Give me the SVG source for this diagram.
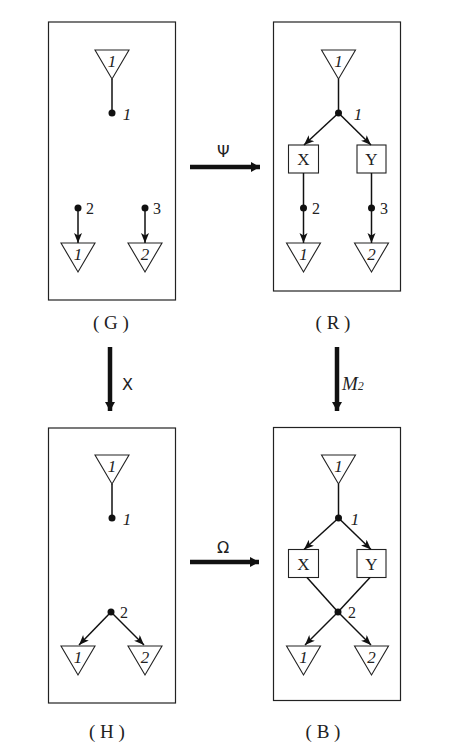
<svg xmlns="http://www.w3.org/2000/svg" width="450" height="750" viewBox="0 0 450 750">
<style>
.panel{fill:none;stroke:#222;stroke-width:1.2}
.tri{fill:#fff;stroke:#222;stroke-width:1.1}
.box{fill:#fff;stroke:#222;stroke-width:1.1}
.e{stroke:#111;stroke-width:1.5;fill:none}
.ea{stroke:#111;stroke-width:1.5;fill:none;marker-end:url(#ah)}
.big{stroke:#111;stroke-width:4.5;fill:none;marker-end:url(#bh)}
.dot{fill:#111}
.ti{font-family:"Liberation Serif",serif;font-style:italic;font-size:17px;fill:#222;text-anchor:middle}
.nl{font-family:"Liberation Serif",serif;font-size:16px;fill:#222}
.bl{font-family:"Liberation Serif",serif;font-size:17px;fill:#222;text-anchor:middle}
.cap{font-family:"Liberation Serif",serif;font-size:19px;fill:#222;text-anchor:middle}
.op{font-family:"DejaVu Sans",sans-serif;font-size:16px;fill:#222}
</style>
<defs>
<marker id="ah" markerUnits="userSpaceOnUse" markerWidth="11" markerHeight="9" refX="10" refY="4" orient="auto">
<path d="M0,0 L10,4 L0,8 L2.5,4 z" fill="#111"/>
</marker>
<marker id="bh" markerUnits="userSpaceOnUse" markerWidth="10" markerHeight="11" refX="9" refY="5" orient="auto">
<path d="M0,0 L9,5 L0,10 z" fill="#111"/>
</marker>
</defs>

<g id="panel-G">
<rect class="panel" x="48.5" y="22" width="127" height="278"/>
<polygon class="tri" points="95,50 129,50 112,79"/>
<text class="ti" x="112" y="67">1</text>
<circle class="dot" cx="112" cy="113" r="3.5"/>
<text class="ti" x="127" y="120">1</text>
<circle class="dot" cx="78" cy="208" r="3.5"/>
<text class="nl" x="86" y="214">2</text>
<circle class="dot" cx="145" cy="208" r="3.5"/>
<text class="nl" x="153" y="214">3</text>
<polygon class="tri" points="61,243 95,243 78,272"/>
<text class="ti" x="78" y="260">1</text>
<polygon class="tri" points="128,243 162,243 145,272"/>
<text class="ti" x="145" y="260">2</text>
<text class="cap" x="111" y="329">( G )</text>
</g>

<g id="panel-R">
<rect class="panel" x="273.5" y="22" width="127" height="269"/>
<polygon class="tri" points="321.5,50 355.5,50 338.5,79"/>
<text class="ti" x="338.5" y="67">1</text>
<circle class="dot" cx="338.5" cy="113" r="3.5"/>
<text class="ti" x="358" y="120">1</text>
<rect class="box" x="288.5" y="145" width="30" height="28"/>
<text class="bl" x="303.5" y="165">X</text>
<rect class="box" x="357" y="145" width="29" height="28"/>
<text class="bl" x="371.5" y="165">Y</text>
<circle class="dot" cx="303.5" cy="208" r="3.5"/>
<text class="nl" x="312" y="214">2</text>
<circle class="dot" cx="371.5" cy="208" r="3.5"/>
<text class="nl" x="380" y="214">3</text>
<polygon class="tri" points="286.5,243 320.5,243 303.5,272"/>
<text class="ti" x="303.5" y="260">1</text>
<polygon class="tri" points="354.5,243 388.5,243 371.5,272"/>
<text class="ti" x="371.5" y="260">2</text>
<text class="cap" x="333" y="329">( R )</text>
</g>

<g id="panel-H">
<rect class="panel" x="48.5" y="428" width="127" height="275"/>
<polygon class="tri" points="95,455 129,455 112,484"/>
<text class="ti" x="112" y="472">1</text>
<circle class="dot" cx="112" cy="518" r="3.5"/>
<text class="ti" x="127" y="525">1</text>
<circle class="dot" cx="111" cy="612" r="3.5"/>
<text class="nl" x="120" y="618">2</text>
<polygon class="tri" points="61,646 95,646 78,675"/>
<text class="ti" x="78" y="663">1</text>
<polygon class="tri" points="128,646 162,646 145,675"/>
<text class="ti" x="145" y="663">2</text>
<text class="cap" x="107" y="738">( H )</text>
</g>

<g id="panel-B">
<rect class="panel" x="273.5" y="427.5" width="127" height="273"/>
<polygon class="tri" points="321.5,455 355.5,455 338.5,484"/>
<text class="ti" x="338.5" y="472">1</text>
<circle class="dot" cx="338.5" cy="518" r="3.5"/>
<text class="ti" x="355" y="525">1</text>
<rect class="box" x="288.5" y="549.5" width="30" height="28"/>
<text class="bl" x="303.5" y="569.5">X</text>
<rect class="box" x="357" y="549.5" width="29" height="28"/>
<text class="bl" x="371.5" y="569.5">Y</text>
<circle class="dot" cx="338" cy="612" r="3.5"/>
<text class="nl" x="348" y="618">2</text>
<polygon class="tri" points="286.5,646 320.5,646 303.5,675"/>
<text class="ti" x="303.5" y="663">1</text>
<polygon class="tri" points="354.5,646 388.5,646 371.5,675"/>
<text class="ti" x="371.5" y="663">2</text>
<text class="cap" x="323" y="738">( B )</text>
</g>

<g id="ops">
<text class="op" x="217" y="157">Ψ</text>
<text class="op" x="217" y="553">Ω</text>
<text class="op" x="122" y="390">X</text>
<text x="342" y="390" font-family="Liberation Serif,serif" font-style="italic" font-size="19" fill="#222">M<tspan font-size="12">2</tspan></text>
</g>

<g id="connectors">
<line class="e" x1="112" y1="79" x2="112" y2="113"/>
<line class="ea" x1="78" y1="208" x2="78" y2="243"/>
<line class="ea" x1="145" y1="208" x2="145" y2="243"/>

<line class="e" x1="338.5" y1="79" x2="338.5" y2="113"/>
<line class="ea" x1="338.5" y1="113" x2="304" y2="145"/>
<line class="ea" x1="338.5" y1="113" x2="371" y2="145"/>
<line class="e" x1="303.5" y1="173" x2="303.5" y2="208"/>
<line class="ea" x1="303.5" y1="208" x2="303.5" y2="243"/>
<line class="e" x1="371.5" y1="173" x2="371.5" y2="208"/>
<line class="ea" x1="371.5" y1="208" x2="371.5" y2="243"/>

<line class="e" x1="112" y1="484" x2="112" y2="518"/>
<line class="ea" x1="111" y1="612" x2="79" y2="645"/>
<line class="ea" x1="111" y1="612" x2="144" y2="645"/>

<line class="e" x1="338.5" y1="484" x2="338.5" y2="518"/>
<line class="ea" x1="338.5" y1="518" x2="304" y2="549.5"/>
<line class="ea" x1="338.5" y1="518" x2="371" y2="549.5"/>
<line class="e" x1="307" y1="577.5" x2="338" y2="612"/>
<line class="e" x1="370" y1="577.5" x2="338" y2="612"/>
<line class="ea" x1="338" y1="612" x2="305" y2="645"/>
<line class="ea" x1="338" y1="612" x2="371" y2="645"/>

<line class="big" x1="190" y1="167" x2="260" y2="167"/>
<line class="big" x1="190" y1="562" x2="259" y2="562"/>
<line class="big" x1="110" y1="347" x2="110" y2="411"/>
<line class="big" x1="337" y1="347" x2="337" y2="411"/>
</g>
</svg>
